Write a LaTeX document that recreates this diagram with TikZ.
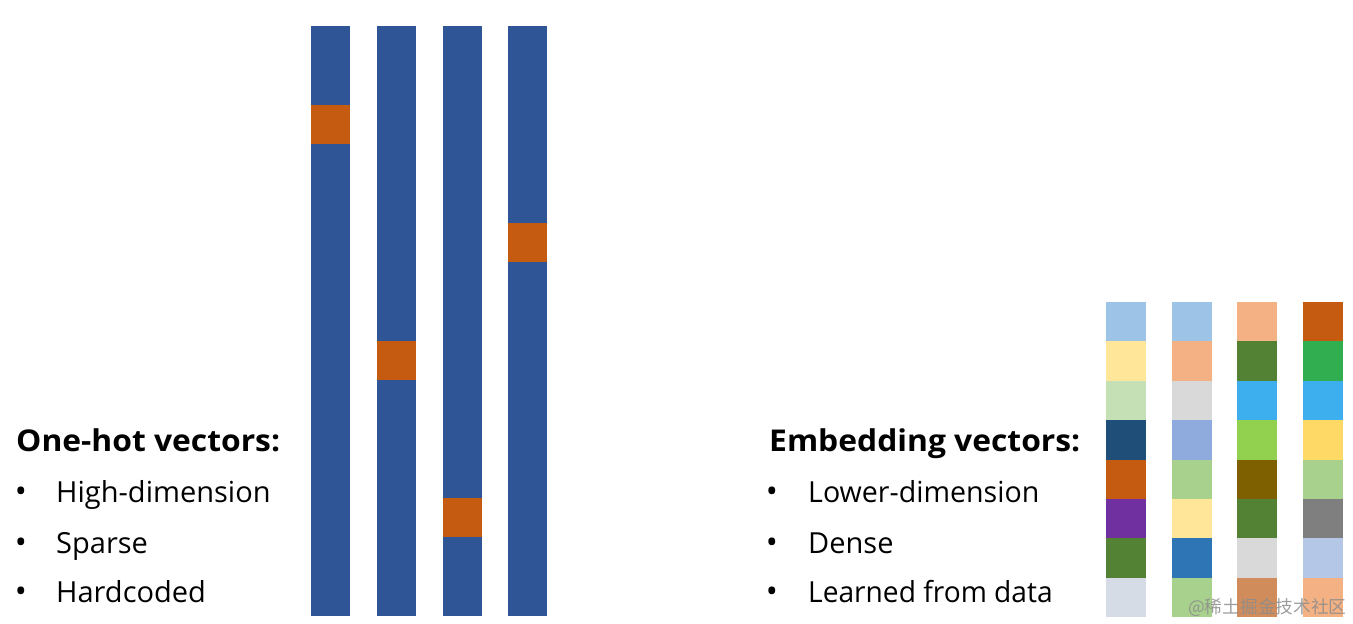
\documentclass[tikz,border=0pt]{standalone}
\usepackage{fontspec}
\setmainfont{Open Sans}
\newfontfamily\cjkfont{Noto Sans CJK SC}
\definecolor{ohblue}{HTML}{2F5597}
\definecolor{ohorange}{HTML}{C55A11}
\newcommand{\widehead}[1]{\scalebox{1.06}[1]{#1}}
\tikzset{
  heading/.style={anchor=base west, inner sep=0pt, font=\fontsize{30}{34}\selectfont\bfseries},
  item/.style={anchor=base west, inner sep=0pt, font=\fontsize{29}{34}\selectfont},
  bulletmark/.style={anchor=base, inner sep=0pt, font=\fontsize{32}{34}\selectfont},
  cell/.style={inner sep=0pt, outer sep=0pt},
}
\begin{document}
\begin{tikzpicture}[x=1pt,y=-1pt]
\useasboundingbox[fill=white] (0,0) rectangle (1353,624);
% one-hot bars
\def\ohtop{26}
\def\ohh{39.333}
\foreach \bx/\hot in {311/2,377/8,443/12,508/5}{
  \fill[ohblue] (\bx,26) rectangle ++(39,590);
  \fill[ohorange] (\bx,{\ohtop+\hot*\ohh}) rectangle ++(39,\ohh);
}
% embedding bars
\def\emtop{302}
\def\emh{39.375}
\foreach \bx [count=\c] in {1106,1172,1237,1303}{
  \ifcase\c\or
    \def\cols{9DC3E6,FFE699,C5E0B4,1F4E79,C55A11,7030A0,548235,D6DCE5}\or
    \def\cols{9DC3E6,F4B183,D9D9D9,8FAADC,A9D18E,FFE699,2E75B6,A9D18E}\or
    \def\cols{F4B183,548235,3DAEEE,92D050,7F6000,548235,D9D9D9,D18C5C}\or
    \def\cols{C55A11,30AE50,3DAEEE,FFD966,A9D18E,7F7F7F,B4C7E7,F4B183}\fi
  \foreach \hx [count=\r from 0] in \cols {
    \definecolor{cc}{HTML}{\hx}
    \fill[cc] (\bx,{\emtop+\r*\emh}) rectangle ++(39.5,\emh);
  }
}
% left text
\node[heading] (h1) at (16,451) {\widehead{One-hot vectors:}};
\node[bulletmark] (b1) at (21,502) {•};
\node[item] (t1) at (56,502) {High-dimension};
\node[bulletmark] (b2) at (21,553) {•};
\node[item] (t2) at (56,553) {Sparse};
\node[bulletmark] (b3) at (21,602) {•};
\node[item] (t3) at (56,602) {Hardcoded};
% right text
\node[heading] (h2) at (769,451) {\widehead{Embedding vectors:}};
\node[bulletmark] (b4) at (772,502) {•};
\node[item] (t4) at (808,502) {\scalebox{0.985}[1]{Lower-dimension}};
\node[bulletmark] (b5) at (772,553) {•};
\node[item] (t5) at (808,553) {Dense};
\node[bulletmark] (b6) at (772,602) {•};
\node[item] (t6) at (808,602) {\scalebox{0.97}[1]{Learned from data}};
% watermark
\node[anchor=base west, inner sep=0pt, text=black!45, opacity=0.85, font=\fontsize{17.7}{20}\selectfont\cjkfont] (wm) at (1188,613) {@稀土掘金技术社区};
\end{tikzpicture}
\end{document}
